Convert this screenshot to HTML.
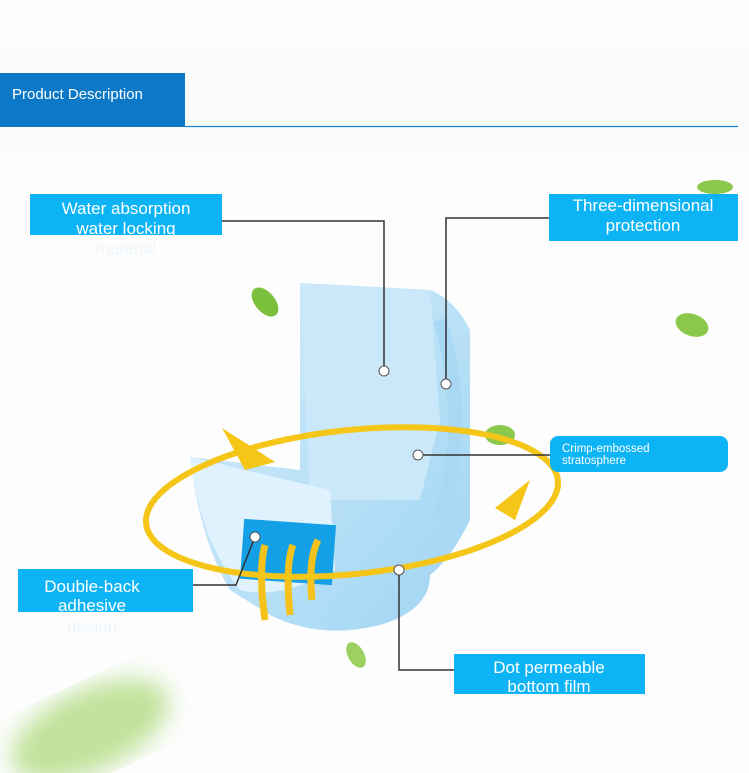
<!DOCTYPE html>
<html><head><style>
body{margin:0;background:#fff;}
svg{display:block;font-family:"Liberation Sans",sans-serif;}
</style></head><body>
<svg width="749" height="773" viewBox="0 0 749 773" xmlns="http://www.w3.org/2000/svg">
<defs>
<linearGradient id="d" x1="0" y1="0" x2="1" y2="1"><stop offset="0" stop-color="#d6eefb"/><stop offset="1" stop-color="#9fd4f3"/></linearGradient>
<filter id="b"><feGaussianBlur stdDeviation="12"/></filter>
</defs>
<rect width="749" height="773" fill="#fdfdfd"/>
<rect x="0" y="45" width="749" height="110" fill="#fbfbfb"/>
<rect x="0" y="73" width="185" height="54" fill="#0b79c7"/>
<text x="12" y="99" fill="#fff" font-size="15">Product Description</text>
<line x1="185" y1="126.5" x2="738" y2="126.5" stroke="#1a80d0" stroke-width="1.2"/>

<ellipse cx="90" cy="730" rx="85" ry="40" fill="#c0e29a" filter="url(#b)" transform="rotate(-25 90 730)"/>
<ellipse cx="265" cy="302" rx="10" ry="17" fill="#7cbf3c" transform="rotate(-40 265 302)"/>
<ellipse cx="692" cy="325" rx="17" ry="11" fill="#8cc84b" transform="rotate(20 692 325)"/>
<ellipse cx="715" cy="187" rx="18" ry="7" fill="#8cc84b"/>
<ellipse cx="356" cy="655" rx="8" ry="14" fill="#9cd060" transform="rotate(-30 356 655)"/>
<ellipse cx="500" cy="435" rx="15" ry="10" fill="#8cc84b"/>

<path d="M300 283 L430 290 Q455 300 470 330 L470 520 Q450 560 430 575 Q430 610 380 625 Q320 640 270 615 L230 590 Q200 540 190 457 L300 470 Z" fill="url(#d)"/>
<path d="M300 283 L430 290 L440 420 L420 500 L310 500 Z" fill="#cbe8fa"/>
<path d="M190 457 L330 490 L335 570 Q280 600 240 590 Q200 540 190 457 Z" fill="#e0f2fd"/>
<path d="M440 320 Q470 420 440 520" stroke="#a8d8f4" stroke-width="14" fill="none"/>
<rect x="242" y="522" width="92" height="60" fill="#14a0e6" transform="rotate(4 288 552)"/>
<path d="M265 620 Q258 570 265 545 M290 615 Q285 565 293 545 M312 600 Q308 560 318 540" stroke="#f4c21b" stroke-width="7" fill="none"/>
<ellipse cx="352" cy="502" rx="207" ry="72" fill="none" stroke="#f5c518" stroke-width="6" transform="rotate(-6 352 502)"/>
<path d="M222 428 L275 462 L245 470 Z" fill="#f5c518"/>
<path d="M530 480 L515 520 L495 508 Z" fill="#f5c518"/>

<g stroke="#333" stroke-width="1.5" fill="none">
<polyline points="222,221 384,221 384,366"/>
<polyline points="549,218 446,218 446,379"/>
<polyline points="423,455 550,455"/>
<polyline points="193,585 236,585 253,542"/>
<polyline points="399,575 399,670 454,670"/>
</g>
<g fill="#fff" stroke="#555" stroke-width="1">
<circle cx="384" cy="371" r="5"/><circle cx="446" cy="384" r="5"/><circle cx="418" cy="455" r="5"/><circle cx="255" cy="537" r="5"/><circle cx="399" cy="570" r="5"/>
</g>

<rect x="30" y="194" width="192" height="41" fill="#0db4f5"/>
<text x="126" y="214" fill="#fff" font-size="17" text-anchor="middle">Water absorption</text>
<text x="126" y="234" fill="#fff" font-size="17" text-anchor="middle">water locking</text>
<text x="126" y="254" fill="#eef6fb" font-size="17" text-anchor="middle">material</text>
<rect x="549" y="194" width="189" height="47" fill="#0db4f5"/>
<text x="643" y="211" fill="#fff" font-size="17" text-anchor="middle">Three-dimensional</text>
<text x="643" y="231" fill="#fff" font-size="17" text-anchor="middle">protection</text>
<rect x="550" y="436" width="178" height="36" rx="8" fill="#0db4f5"/>
<text x="562" y="452" fill="#fff" font-size="11.5">Crimp-embossed</text>
<text x="562" y="464" fill="#fff" font-size="11.5">stratosphere</text>
<rect x="18" y="569" width="175" height="43" fill="#0db4f5"/>
<text x="92" y="592" fill="#fff" font-size="17" text-anchor="middle">Double-back</text>
<text x="92" y="611" fill="#fff" font-size="17" text-anchor="middle">adhesive</text>
<text x="92" y="632" fill="#eef6fb" font-size="17" text-anchor="middle">design</text>
<rect x="454" y="654" width="191" height="40" fill="#0db4f5"/>
<text x="549" y="673" fill="#fff" font-size="17" text-anchor="middle">Dot permeable</text>
<text x="549" y="692" fill="#fff" font-size="17" text-anchor="middle">bottom film</text>
</svg>
</body></html>
